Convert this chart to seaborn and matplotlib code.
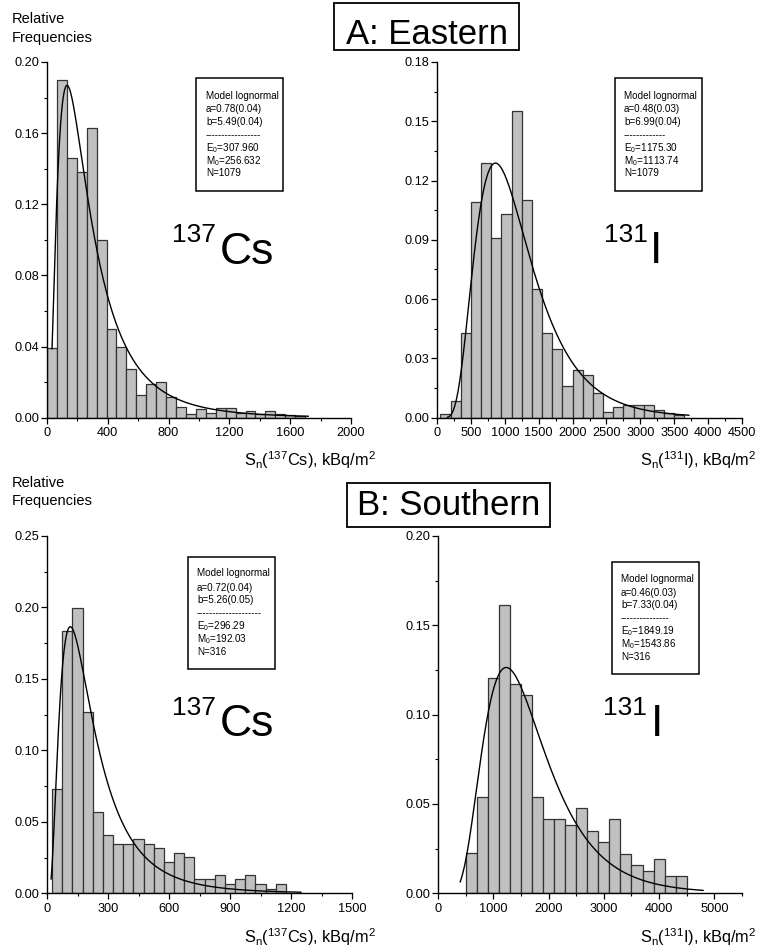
import numpy as np
import pandas as pd
import matplotlib
matplotlib.use("Agg")
import matplotlib.pyplot as plt
from matplotlib.patches import Rectangle
from matplotlib.ticker import MultipleLocator, FormatStrFormatter
import seaborn as sns

# ---------------- data ----------------
# Panel A: Eastern, 137Cs
cs_east_start, cs_east_width = 0.0, 65.3
cs_east_freq = [0.039, 0.190, 0.146, 0.138, 0.163, 0.100, 0.050, 0.040, 0.0274,
                0.0128, 0.019, 0.020, 0.0115, 0.006, 0.0022, 0.0047, 0.0024,
                0.0053, 0.0053, 0.0028, 0.0038, 0.0020, 0.0038, 0.0019, 0.0013,
                0.0009]
cs_east_model = [0.78, 5.49]          # a (sigma), b (mu)
cs_east_range = [33, 1720]
cs_east_info = ["Model lognormal", "a=0.78(0.04)", "b=5.49(0.04)",
                "-----------------", "E$_\\mathrm{0}$=307.960",
                "M$_\\mathrm{0}$=256.632", "N=1079"]

# Panel A: Eastern, 131I
i_east_start, i_east_width = 50.0, 150.0
i_east_freq = [0.002, 0.0085, 0.043, 0.109, 0.129, 0.091, 0.103, 0.155, 0.110,
               0.065, 0.043, 0.035, 0.016, 0.024, 0.0215, 0.0125, 0.003, 0.0055,
               0.0065, 0.0065, 0.0065, 0.0037, 0.0022, 0.0013]
i_east_model = [0.48, 6.99]
i_east_range = [150, 3720]
i_east_info = ["Model lognormal", "a=0.48(0.03)", "b=6.99(0.04)",
               "-------------", "E$_\\mathrm{0}$=1175.30",
               "M$_\\mathrm{0}$=1113.74", "N=1079"]

# Panel B: Southern, 137Cs
cs_south_start, cs_south_width = 25.0, 50.0
cs_south_freq = [0.073, 0.1835, 0.1994, 0.1266, 0.0571, 0.041, 0.0345, 0.0345,
                 0.038, 0.0345, 0.0317, 0.022, 0.0285, 0.0257, 0.0098, 0.0098,
                 0.013, 0.0065, 0.0098, 0.013, 0.0065, 0.0033, 0.0065]
cs_south_model = [0.72, 5.26]
cs_south_range = [20, 1250]
cs_south_info = ["Model lognormal", "a=0.72(0.04)", "b=5.26(0.05)",
                 "--------------------", "E$_\\mathrm{0}$=296.29",
                 "M$_\\mathrm{0}$=192.03", "N=316"]

# Panel B: Southern, 131I
i_south_start, i_south_width = 500.0, 200.0
i_south_freq = [0.0224, 0.0537, 0.1203, 0.1614, 0.117, 0.1108, 0.0537, 0.0414,
                0.0414, 0.038, 0.0476, 0.035, 0.0285, 0.0414, 0.022, 0.016,
                0.0127, 0.019, 0.0097, 0.0097]
i_south_model = [0.46, 7.33]
i_south_range = [400, 4800]
i_south_info = ["Model lognormal", "a=0.46(0.03)", "b=7.33(0.04)",
                "---------------", "E$_\\mathrm{0}$=1849.19",
                "M$_\\mathrm{0}$=1543.86", "N=316"]

# ---------------- style ----------------
sns.set_theme(style="ticks")
plt.rcParams["font.family"] = ["Liberation Sans", "DejaVu Sans"]
plt.rcParams["mathtext.fontset"] = "custom"
plt.rcParams["mathtext.rm"] = "Liberation Sans"
plt.rcParams["mathtext.it"] = "Liberation Sans:italic"
plt.rcParams["mathtext.bf"] = "Liberation Sans:bold"
for k in ["text.color", "axes.labelcolor", "xtick.color", "ytick.color",
          "axes.edgecolor"]:
    plt.rcParams[k] = "black"

W, H = 766, 951
fig = plt.figure(figsize=(W / 100, H / 100), dpi=100)


def fx(x):
    return x / W


def fy(y):
    return 1 - y / H


def add_axes(l, r, t, b):
    return fig.add_axes([fx(l), fy(b), (r - l) / W, (b - t) / H])


def panel(ax, start, width, freq, model, rng, xlim, ylim, xmaj, xmin, ymaj, ymin):
    n = len(freq)
    edges = start + width * np.arange(n + 1)
    centers = (edges[:-1] + edges[1:]) / 2
    df = pd.DataFrame({"x": centers, "f": freq})
    sns.histplot(data=df, x="x", weights="f", binwidth=width,
                 binrange=(float(edges[0]), float(edges[-1])), ax=ax,
                 color="#c0c0c0", edgecolor="#333333", linewidth=0.9,
                 alpha=1.0, stat="count")
    a, b = model
    xs = np.linspace(rng[0], rng[1], 600)
    ys = width * np.exp(-(np.log(xs) - b) ** 2 / (2 * a * a)) / (xs * a * np.sqrt(2 * np.pi))
    sns.lineplot(x=xs, y=ys, ax=ax, color="black", linewidth=1.0)
    ax.set_xlim(*xlim)
    ax.set_ylim(*ylim)
    ax.set_xlabel("")
    ax.set_ylabel("")
    ax.xaxis.set_major_locator(MultipleLocator(xmaj))
    ax.xaxis.set_minor_locator(MultipleLocator(xmin))
    ax.yaxis.set_major_locator(MultipleLocator(ymaj))
    ax.yaxis.set_minor_locator(MultipleLocator(ymin))
    ax.yaxis.set_major_formatter(FormatStrFormatter("%.2f"))
    ax.xaxis.set_major_formatter(FormatStrFormatter("%d"))
    for s in ["top", "right"]:
        ax.spines[s].set_visible(False)
    for s in ["left", "bottom"]:
        ax.spines[s].set_linewidth(1.0)
        ax.spines[s].set_color("black")
    ax.tick_params(which="major", direction="out", length=4, width=0.9,
                   labelsize=9.2, pad=1.5, colors="black")
    ax.tick_params(axis="x", which="major", pad=3)
    ax.tick_params(which="minor", direction="out", length=2.5, width=0.8,
                   colors="black")
    ax.set_facecolor("none")


ax1 = add_axes(47, 351, 62, 417.7)
panel(ax1, cs_east_start, cs_east_width, cs_east_freq, cs_east_model,
      cs_east_range, (0, 2000), (0, 0.20), 400, 200, 0.04, 0.02)
ax2 = add_axes(437, 742, 62, 417.7)
panel(ax2, i_east_start, i_east_width, i_east_freq, i_east_model,
      i_east_range, (0, 4500), (0, 0.18), 500, 250, 0.03, 0.015)
ax3 = add_axes(47, 352, 536, 893.3)
panel(ax3, cs_south_start, cs_south_width, cs_south_freq, cs_south_model,
      cs_south_range, (0, 1500), (0, 0.25), 300, 150, 0.05, 0.025)
ax4 = add_axes(438, 742, 536, 893.3)
panel(ax4, i_south_start, i_south_width, i_south_freq, i_south_model,
      i_south_range, (0, 5500), (0, 0.20), 1000, 500, 0.05, 0.025)


def rect(l, r, t, b, lw=1.1):
    fig.patches.append(Rectangle((fx(l), fy(b)), (r - l) / W, (b - t) / H,
                                 transform=fig.transFigure, fill=True,
                                 facecolor="white", edgecolor="black",
                                 linewidth=lw, zorder=5))


def info(lines, l, r, t, b, tx, ys):
    rect(l, r, t, b)
    for line, y in zip(lines, ys):
        fig.text(fx(tx), fy(y), line, fontsize=7.1, ha="left", va="center",
                 zorder=6)


info(cs_east_info, 196, 283, 78, 191, 206, [96, 109, 122, 135, 148, 161, 173])
info(i_east_info, 615, 702, 78, 191, 624, [96, 109, 122, 135, 148, 161, 173])
info(cs_south_info, 188, 275, 557, 669, 197, [573, 588, 600, 613, 626, 639, 652])
info(i_south_info, 612, 699, 562, 674, 621, [579, 593, 605, 618, 631, 644, 657])

# region titles
rect(334, 519, 3, 50, lw=1.3)
fig.text(fx(426.5), fy(44), "A: Eastern", fontsize=25, ha="center",
         va="baseline", zorder=6)
rect(347, 550, 483, 527, lw=1.3)
fig.text(fx(448.5), fy(515), "B: Southern", fontsize=25, ha="center",
         va="baseline", zorder=6)

# y titles
for yb in [(22.7, 41.7), (486.7, 505.5)]:
    fig.text(fx(12), fy(yb[0]), "Relative", fontsize=10.5, ha="left", va="baseline")
    fig.text(fx(12), fy(yb[1]), "Frequencies", fontsize=10.5, ha="left", va="baseline")

# x titles
xl_cs = "S$_\\mathrm{n}$($^\\mathrm{137}$Cs), kBq/m$^\\mathrm{2}$"
xl_i = "S$_\\mathrm{n}$($^\\mathrm{131}$I), kBq/m$^\\mathrm{2}$"
fig.text(fx(376), fy(466), xl_cs, fontsize=11.8, ha="right", va="baseline")
fig.text(fx(757), fy(466), xl_i, fontsize=11.8, ha="right", va="baseline")
fig.text(fx(376), fy(942.5), xl_cs, fontsize=11.8, ha="right", va="baseline")
fig.text(fx(757), fy(942.5), xl_i, fontsize=11.8, ha="right", va="baseline")

# isotope labels
def iso(x_sup, y_sup, sup, x_main, y_main, main):
    fig.text(fx(x_sup), fy(y_sup), sup, fontsize=19, ha="left", va="baseline")
    fig.text(fx(x_main), fy(y_main), main, fontsize=32, ha="left", va="baseline")


iso(172, 242, "137", 220, 264, "Cs")
iso(604, 242, "131", 650, 263, "I")
iso(172, 715, "137", 220, 736, "Cs")
iso(603, 715, "131", 651, 736, "I")

fig.savefig("out.png", dpi=100, facecolor="white")
